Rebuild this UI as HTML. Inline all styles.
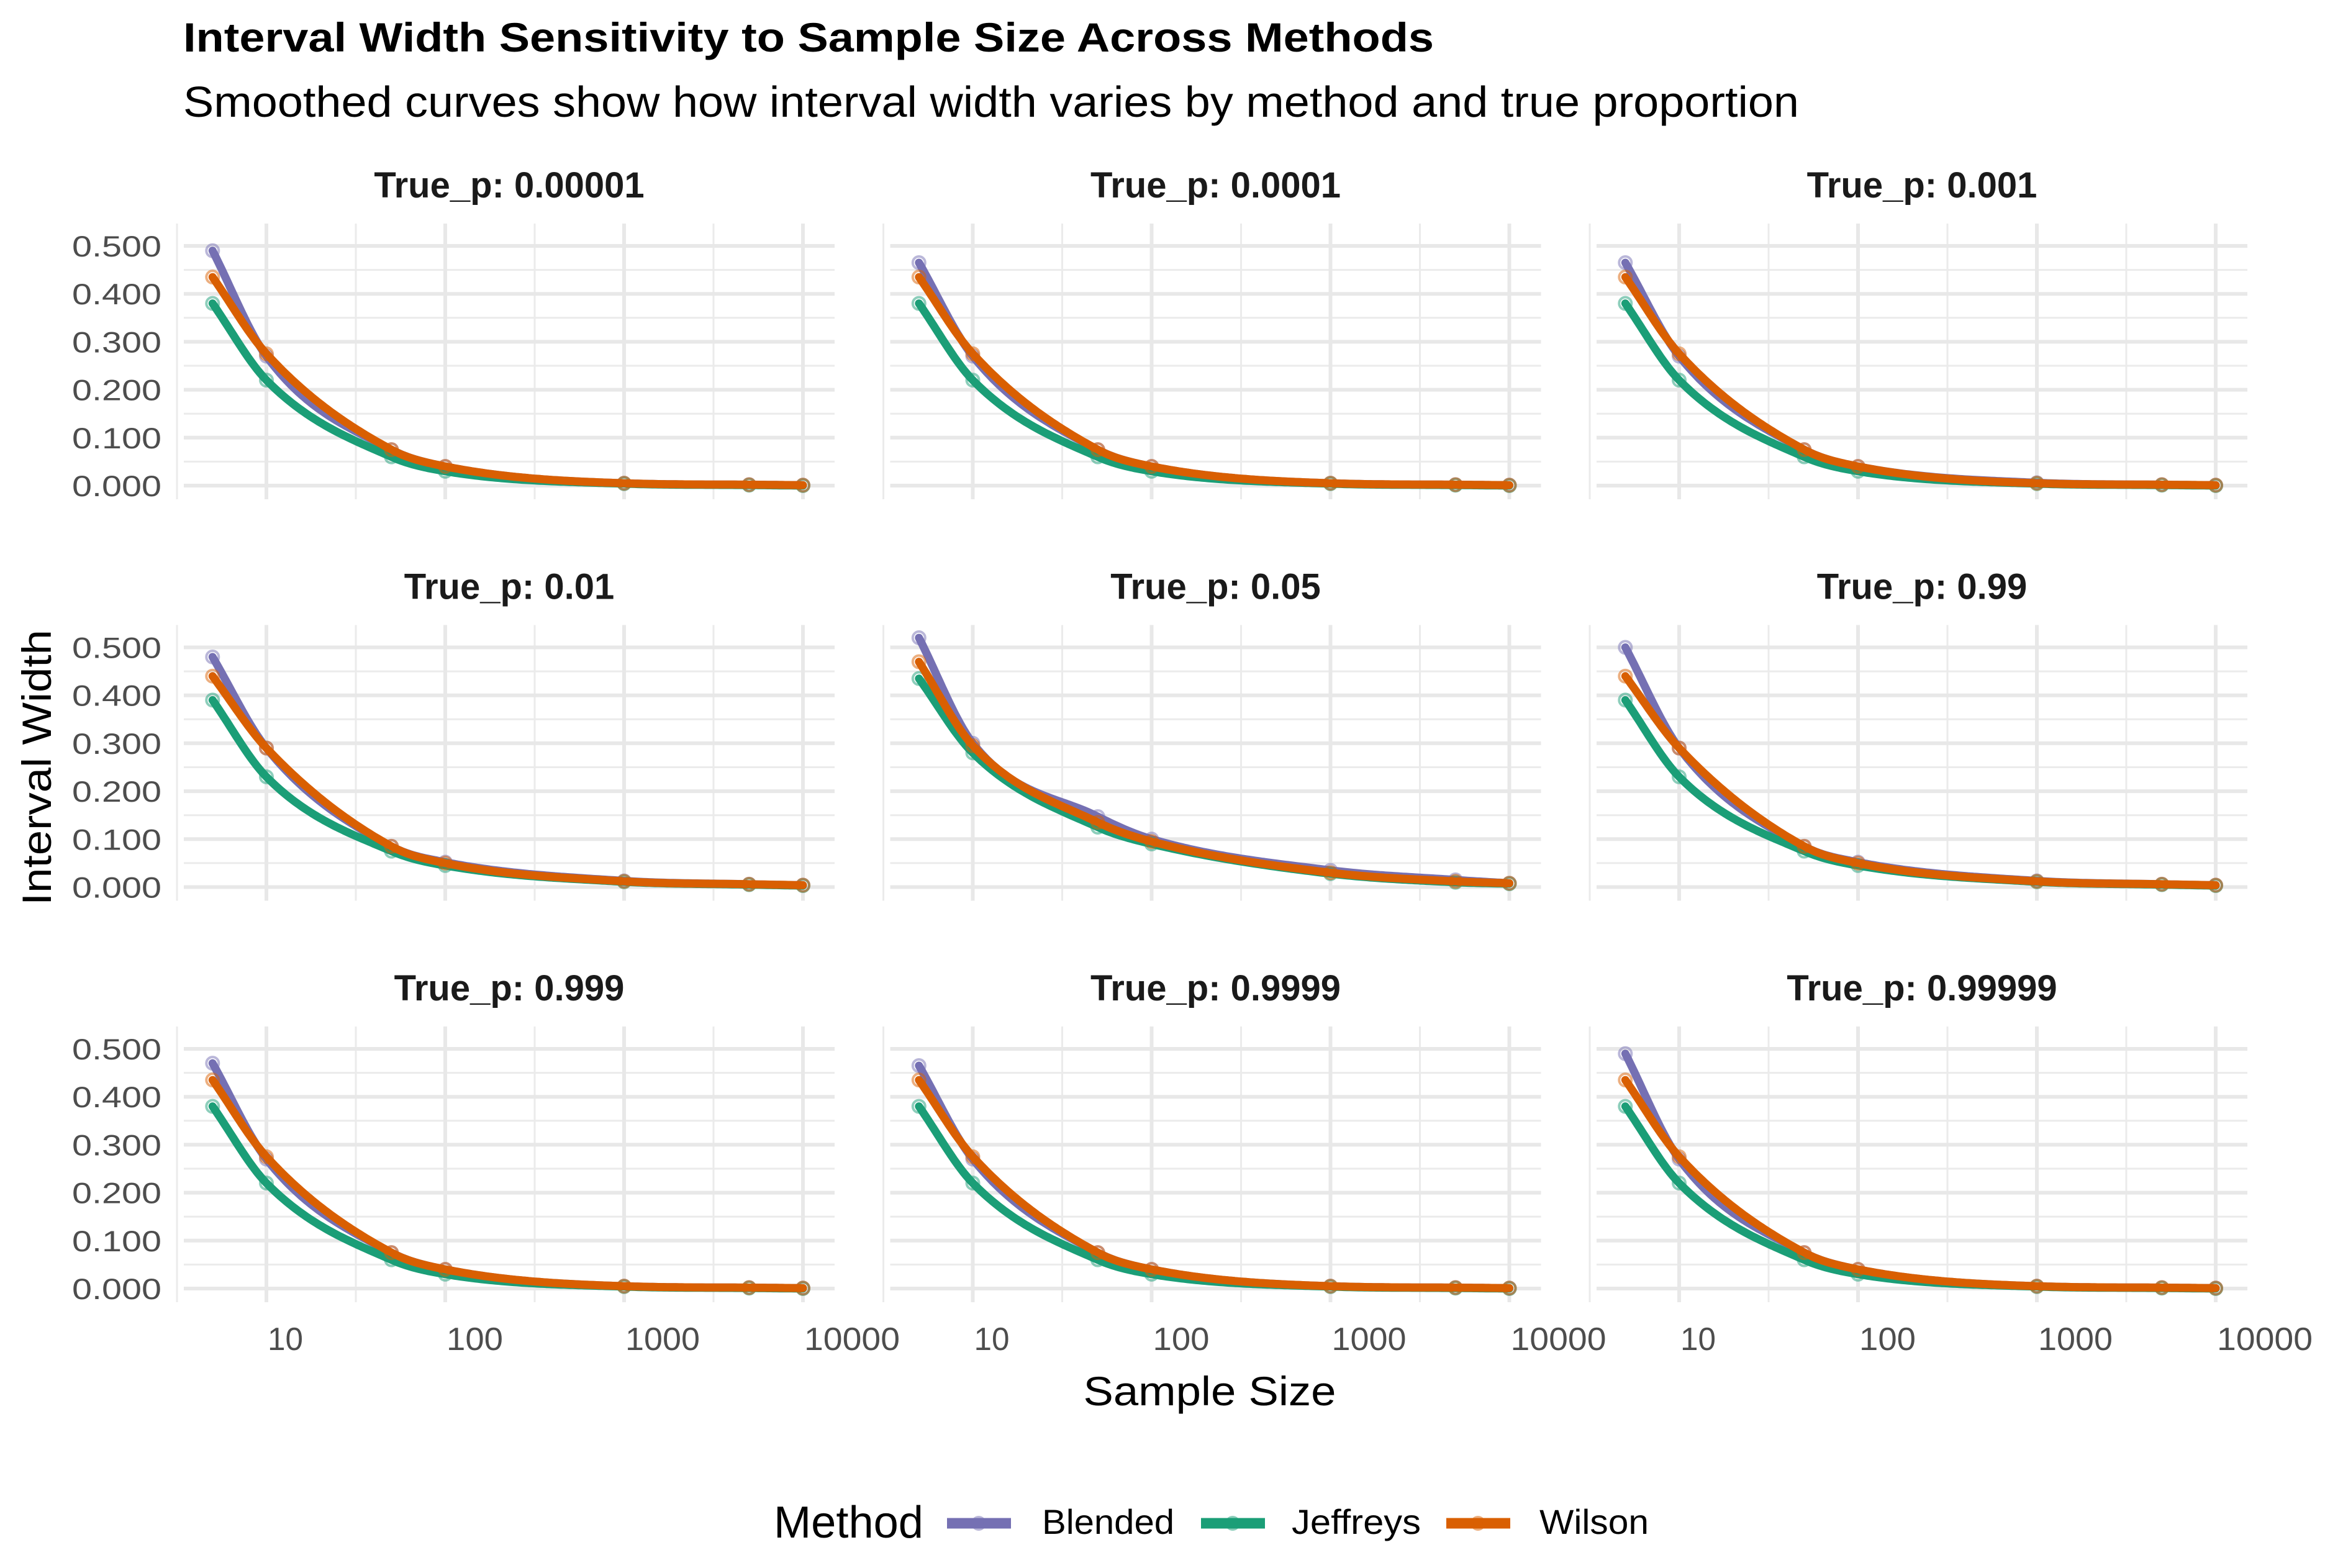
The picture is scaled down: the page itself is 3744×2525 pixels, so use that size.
<!DOCTYPE html>
<html><head><meta charset="utf-8">
<style>
html,body{margin:0;padding:0;background:#fff;}
svg{display:block;font-family:"Liberation Sans",sans-serif;}
</style></head>
<body>
<svg id="chart" width="3744" height="2525" viewBox="0 0 3744 2525" xmlns="http://www.w3.org/2000/svg">
<rect width="3744" height="2525" fill="#fff"/>
</svg>
<script>
const sampleSizes = [5, 10, 50, 100, 1000, 5000, 10000];
const panelTitles = ["True_p: 0.00001","True_p: 0.0001","True_p: 0.001","True_p: 0.01","True_p: 0.05","True_p: 0.99","True_p: 0.999","True_p: 0.9999","True_p: 0.99999"];
const methods = ["Blended","Jeffreys","Wilson"];
const blendedVals = [
 [0.490,0.270,0.075,0.040,0.005,0.002,0.001],
 [0.465,0.270,0.075,0.040,0.005,0.002,0.001],
 [0.465,0.270,0.075,0.040,0.006,0.002,0.001],
 [0.480,0.290,0.085,0.052,0.013,0.006,0.004],
 [0.520,0.300,0.147,0.100,0.035,0.015,0.008],
 [0.500,0.290,0.085,0.052,0.013,0.006,0.004],
 [0.470,0.270,0.075,0.040,0.005,0.002,0.001],
 [0.465,0.270,0.075,0.040,0.005,0.002,0.001],
 [0.490,0.270,0.075,0.040,0.005,0.002,0.001]];
const jeffreysVals = [
 [0.380,0.220,0.060,0.030,0.004,0.001,0.000],
 [0.380,0.220,0.060,0.030,0.004,0.001,0.000],
 [0.380,0.220,0.060,0.030,0.004,0.001,0.000],
 [0.390,0.230,0.075,0.045,0.011,0.005,0.003],
 [0.435,0.280,0.125,0.090,0.028,0.010,0.007],
 [0.390,0.230,0.075,0.045,0.011,0.005,0.003],
 [0.380,0.220,0.060,0.030,0.004,0.001,0.000],
 [0.380,0.220,0.060,0.030,0.004,0.001,0.000],
 [0.380,0.220,0.060,0.030,0.004,0.001,0.000]];
const wilsonVals = [
 [0.435,0.275,0.075,0.040,0.005,0.002,0.001],
 [0.435,0.275,0.075,0.040,0.005,0.002,0.001],
 [0.435,0.275,0.075,0.040,0.005,0.002,0.001],
 [0.440,0.290,0.085,0.050,0.012,0.006,0.004],
 [0.470,0.295,0.135,0.095,0.030,0.012,0.008],
 [0.440,0.290,0.085,0.050,0.012,0.006,0.004],
 [0.435,0.275,0.075,0.040,0.005,0.002,0.001],
 [0.435,0.275,0.075,0.040,0.005,0.002,0.001],
 [0.435,0.275,0.075,0.040,0.005,0.002,0.001]];
const yTicks = [0,0.1,0.2,0.3,0.4,0.5];
const yTickLabels = ["0.000","0.100","0.200","0.300","0.400","0.500"];
const xTicks = [10,100,1000,10000];
const xTickLabels = ["10","100","1000","10000"];
const xTickWidths = [57,91,120,154];
const colors = {Blended:"#7570b3", Jeffreys:"#1b9e77", Wilson:"#d95f02"};

const NS = "http://www.w3.org/2000/svg";
const svg = document.getElementById("chart");
function el(tag, attrs, parent){const e=document.createElementNS(NS,tag);for(const k in attrs)e.setAttribute(k,attrs[k]);(parent||svg).appendChild(e);return e;}
function txt(s, attrs, len, parent){const t=el("text",attrs,parent);t.textContent=s;if(len){t.setAttribute("textLength",len);t.setAttribute("lengthAdjust","spacingAndGlyphs");}return t;}

let t = txt("Interval Width Sensitivity to Sample Size Across Methods",{x:295,y:83,"font-size":66,"font-weight":"bold",fill:"#000"},2014);


t = txt("Smoothed curves show how interval width varies by method and true proportion",{x:295,y:188,"font-size":70,fill:"#000"},2602);



const COL0 = 296, COLW = 1048, COLSTEP = 1137.5;
const ROW_Y5 = 396, ROWSTEP = 646.5, YSPAN = 386;
const X10 = 429, DEC = 288;

function monotone(xs, ys){
  const n=xs.length, d=[], m=[];
  for(let i=0;i<n-1;i++) d.push((ys[i+1]-ys[i])/(xs[i+1]-xs[i]));
  m[0]=d[0]; m[n-1]=d[n-2];
  for(let i=1;i<n-1;i++){ m[i]=(d[i-1]*d[i]<=0)?0:(d[i-1]+d[i])/2; }
  for(let i=0;i<n-1;i++){ if(d[i]===0){m[i]=0;m[i+1]=0;continue;} const a=m[i]/d[i],b=m[i+1]/d[i],s=a*a+b*b; if(s>9){const tt=3/Math.sqrt(s);m[i]=tt*a*d[i];m[i+1]=tt*b*d[i];} }
  return function(x){ let i=0; while(i<n-2 && x>xs[i+1]) i++; const h=xs[i+1]-xs[i], u=(x-xs[i])/h;
    const h00=2*u*u*u-3*u*u+1,h10=u*u*u-2*u*u+u,h01=-2*u*u*u+3*u*u,h11=u*u*u-u*u;
    return h00*ys[i]+h10*h*m[i]+h01*ys[i+1]+h11*h*m[i+1]; };
}

for(let p=0;p<9;p++){
  const r=Math.floor(p/3), c=p%3;
  const g = el("g",{});
  
  
  const y0 = ROW_Y5 + r*ROWSTEP + YSPAN;
  const top = ROW_Y5 + r*ROWSTEP - 36, bot = y0 + 22;
  const left = COL0 + c*COLSTEP, right = left + COLW;
  const xS = v => X10 + c*COLSTEP + (Math.log10(v)-1)*DEC;
  const yS = v => y0 - v/0.5*YSPAN;
  for(let k=0;k<5;k++){ const yy=yS(0.05+0.1*k); el("line",{x1:left,x2:right,y1:yy,y2:yy,stroke:"#ebebeb","stroke-width":3},g); }
  [0.5,1.5,2.5,3.5].forEach(l=>{ const xx=X10+c*COLSTEP+(l-1)*DEC; el("line",{x1:xx,x2:xx,y1:top,y2:bot,stroke:"#ebebeb","stroke-width":3},g); });
  yTicks.forEach(v=>{ const yy=yS(v); const ln=el("line",{x1:left,x2:right,y1:yy,y2:yy,stroke:"#e8e8e8","stroke-width":6},g);   });
  xTicks.forEach(v=>{ const xx=xS(v); const ln=el("line",{x1:xx,x2:xx,y1:top,y2:bot,stroke:"#e8e8e8","stroke-width":6},g);   });
  const st = txt(panelTitles[p],{x:(left+right)/2,y:318+r*ROWSTEP,"font-size":58,"font-weight":"bold","text-anchor":"middle",fill:"#1a1a1a"},null,g);
  
  
  if(c===0){ yTicks.forEach((v,i)=>{ const tl=txt(yTickLabels[i],{x:260,y:yS(v)+17,"font-size":47,"text-anchor":"end",fill:"#4d4d4d"},144,g);   }); }
  if(r===2){ xTicks.forEach((v,i)=>{ const tl=txt(xTickLabels[i],{x:xS(v)+2,y:2174,"font-size":52,fill:"#4d4d4d"},xTickWidths[i],g);   }); }
  const series = {Blended:blendedVals[p], Jeffreys:jeffreysVals[p], Wilson:wilsonVals[p]};
  methods.forEach(m=>{
    const vals = series[m];
    const lx = sampleSizes.map(s=>Math.log10(s));
    vals.forEach((v,i)=>{ const pt=el("circle",{cx:xS(sampleSizes[i]),cy:yS(v),r:10,fill:"none",stroke:colors[m],"stroke-width":4,opacity:0.5},g);   });
    const f = monotone(lx, vals);
    let d="";
    for(let k=0;k<=200;k++){ const l=lx[0]+(lx[lx.length-1]-lx[0])*k/200; const xx=X10+c*COLSTEP+(l-1)*DEC; d+=(k?"L":"M")+xx.toFixed(1)+","+yS(f(l)).toFixed(1); }
    const path=el("path",{d:d,fill:"none",stroke:colors[m],"stroke-width":13,"stroke-linecap":"round","stroke-linejoin":"round"},g);
    
    
  });
}

t = txt("Sample Size",{x:1948,y:2263,"font-size":66,"text-anchor":"middle",fill:"#000"},407);


t = txt("Interval Width",{x:0,y:0,"font-size":66,"text-anchor":"middle",fill:"#000",transform:"translate(82,1236) rotate(-90)"},444);



t = txt("Method",{x:1246,y:2476,"font-size":72,fill:"#000"},241);


const legKeys=[1525,1934,2329], legText=[1678,2080,2479], legW=[213,208,176];
methods.forEach((m,i)=>{
  const lg=el("g",{});
  
  
  el("line",{x1:legKeys[i],x2:legKeys[i]+103,y1:2453,y2:2453,stroke:colors[m],"stroke-width":17},lg);
  el("circle",{cx:legKeys[i]+51,cy:2453,r:10,fill:"none",stroke:colors[m],"stroke-width":4,opacity:0.5},lg);
  txt(m,{x:legText[i],y:2470,"font-size":56,fill:"#000"},legW[i],lg);
});
</script>
</body></html>
